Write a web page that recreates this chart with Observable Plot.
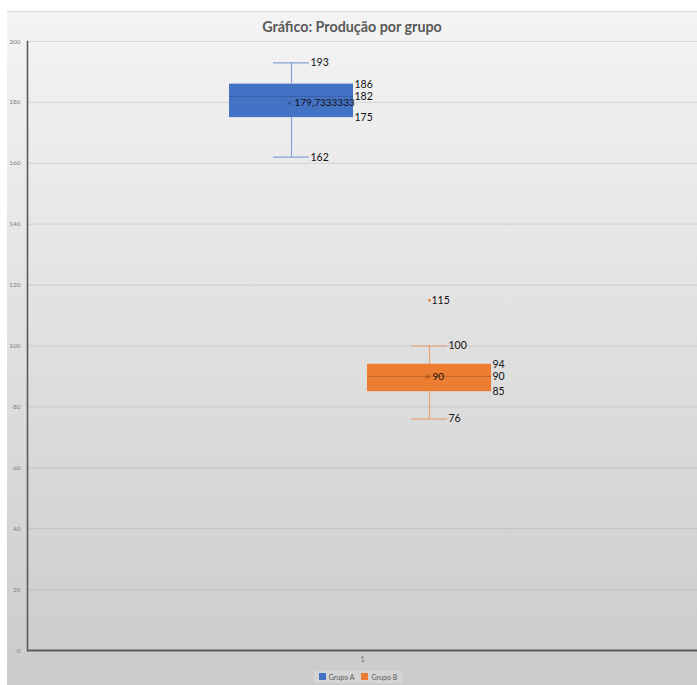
<!DOCTYPE html>
<html>
<head>
<meta charset="utf-8">
<script src="https://cdn.jsdelivr.net/npm/d3@7"></script>
<script src="https://cdn.jsdelivr.net/npm/@observablehq/plot@0.6"></script>
<style>
  html, body { margin: 0; padding: 0; background: #ffffff; }
  #page { position: relative; width: 697px; height: 685px; overflow: hidden; background: #ffffff; }
  #chart { position: absolute; left: 7px; top: 11px; width: 690px; height: 674px;
           background: linear-gradient(#f4f4f4, #cbcbcb); }
  #topline { position: absolute; left: 0; top: 0; width: 690px; height: 1px; background: #dcdcdc; }
  #title { position: absolute; left: 0; top: 0; width: 690px; height: 30px; line-height: 31px;
           text-align: center; font-family: Lato, "Open Sans", sans-serif; font-weight: 700;
           font-size: 14.3px; color: #595959; }
  #plot { position: absolute; left: 0; top: 23px; }
  #legend { position: absolute; left: 0; top: 658px; width: 690px; height: 15px;
            display: flex; justify-content: center; align-items: center; padding-left: 12px; box-sizing: border-box; }
  #legend .box { display: flex; align-items: center; gap: 7px; padding: 2px 5px;
                 background: rgba(255,255,255,0.18); }
  #legend .item { display: flex; align-items: center; gap: 3px;
                  font-family: Lato, sans-serif; font-size: 7px; color: #595959; }
  #legend .sw { width: 7px; height: 7px; display: inline-block; }
</style>
</head>
<body>
<div id="page">
  <div id="chart">
    <div id="topline"></div>
    <div id="title">Gráfico: Produção por grupo</div>
    <div id="plot"></div>
    <div id="legend"></div>
  </div>
</div>
<script>
// ---- data ----
const categories = ["1"];
const groups = ["Grupo A", "Grupo B"];
const minValues = [162, 76];
const q1Values = [175, 85];
const medianValues = [182, 90];
const q3Values = [186, 94];
const maxValues = [193, 100];
const meanValues = [179.7333333, 90];
const outlierGroups = ["Grupo B"];
const outlierValues = [115];
const yTicks = [0, 20, 40, 60, 80, 100, 120, 140, 160, 180, 200];
const groupColors = ["#4472C4", "#ED7D31"];

// ---- tables built from arrays ----
const stats = groups.map((g, i) => ({
  category: categories[0], group: g,
  min: minValues[i], q1: q1Values[i], median: medianValues[i],
  q3: q3Values[i], max: maxValues[i], mean: meanValues[i]
}));
const outliers = outlierGroups.map((g, i) => ({ category: categories[0], group: g, value: outlierValues[i] }));
const boxLabels = stats.flatMap(d => [
  { category: d.category, group: d.group, value: d.q3 },
  { category: d.category, group: d.group, value: d.median },
  { category: d.category, group: d.group, value: d.q1 }
]);
const capLabels = stats.flatMap(d => [
  { category: d.category, group: d.group, value: d.max },
  { category: d.category, group: d.group, value: d.min }
]);
const fmt = v => String(v).replace(".", ",");

const font = "Lato, 'Open Sans', sans-serif";
const labelStyle = { fill: "#111", fontSize: 10.5, fontFamily: font, textAnchor: "start" };

const plot = Plot.plot({
  width: 690,
  height: 632,
  marginLeft: 20,
  marginRight: 0,
  marginTop: 7,
  marginBottom: 16,
  style: { background: "transparent", fontFamily: font, overflow: "visible" },
  fx: { domain: categories, padding: 0, label: null },
  x: { type: "band", domain: groups, paddingInner: 0.1014, paddingOuter: 1.478, align: 0.495, axis: null },
  y: { domain: [0, 200], label: null },
  color: { domain: groups, range: groupColors },
  marks: [
    Plot.ruleY(yTicks.filter(v => v > 0), { stroke: "#808080", strokeOpacity: 0.22 }),
    Plot.axisY(yTicks, { tickSize: 0, tickPadding: 7, fontSize: 6.5, fill: "#808080", label: null }),
    Plot.axisFx({ anchor: "bottom", tickSize: 0, tickPadding: 7, fontSize: 7, fill: "#707070", label: null }),
    Plot.frame({ anchor: "left", stroke: "#5a5a5a", strokeWidth: 1.6 }),
    Plot.ruleY([0], { stroke: "#5a5a5a", strokeWidth: 2 }),
    // whiskers
    Plot.ruleX(stats, { fx: "category", x: "group", y1: "q3", y2: "max", stroke: "group", strokeOpacity: 0.6, strokeWidth: 1.2 }),
    Plot.ruleX(stats, { fx: "category", x: "group", y1: "min", y2: "q1", stroke: "group", strokeOpacity: 0.6, strokeWidth: 1.2 }),
    Plot.tickY(stats, { fx: "category", x: "group", y: "max", stroke: "group", strokeOpacity: 0.6, strokeWidth: 1.2, insetLeft: 44, insetRight: 44 }),
    Plot.tickY(stats, { fx: "category", x: "group", y: "min", stroke: "group", strokeOpacity: 0.6, strokeWidth: 1.2, insetLeft: 44, insetRight: 44 }),
    // boxes
    Plot.barY(stats, { fx: "category", x: "group", y1: "q1", y2: "q3", fill: "group" }),
    Plot.tickY(stats, { fx: "category", x: "group", y: "median", stroke: "#000", strokeOpacity: 0.18, strokeWidth: 1 }),
    // mean markers
    Plot.dot(stats, { fx: "category", x: "group", y: "mean", symbol: "times", r: 2.2, stroke: "#000", strokeOpacity: 0.3, strokeWidth: 1, dx: -2 }),
    // outliers
    Plot.dot(outliers, { fx: "category", x: "group", y: "value", r: 1.4, fill: "group" }),
    // labels
    Plot.text(boxLabels, { fx: "category", x: "group", y: "value", text: d => fmt(d.value), dx: 63, ...labelStyle }),
    Plot.text(capLabels, { fx: "category", x: "group", y: "value", text: d => fmt(d.value), dx: 19, ...labelStyle }),
    Plot.text(stats, { fx: "category", x: "group", y: "mean", text: d => fmt(d.mean), dx: 3, ...labelStyle, fontSize: 10, letterSpacing: -0.1 }),
    Plot.text(outliers, { fx: "category", x: "group", y: "value", text: d => fmt(d.value), dx: 2, ...labelStyle })
  ]
});
document.getElementById("plot").appendChild(plot);

// legend
const legend = document.getElementById("legend");
const lbox = document.createElement("div");
lbox.className = "box";
groups.forEach((g, i) => {
  const item = document.createElement("div");
  item.className = "item";
  const sw = document.createElement("span");
  sw.className = "sw";
  sw.style.background = groupColors[i];
  const t = document.createElement("span");
  t.textContent = g;
  item.appendChild(sw);
  item.appendChild(t);
  lbox.appendChild(item);
});
legend.appendChild(lbox);
</script>
</body>
</html>
